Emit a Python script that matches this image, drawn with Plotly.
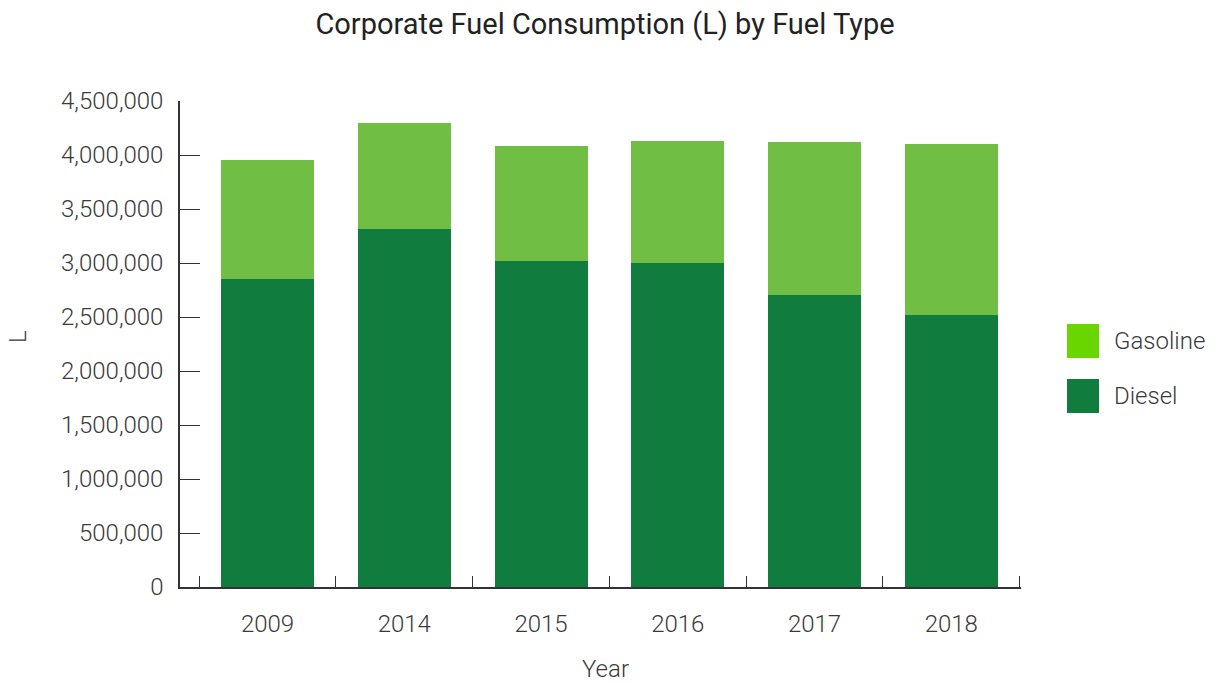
import plotly.graph_objects as go

years = ["2009", "2014", "2015", "2016", "2017", "2018"]
diesel = [2852000, 3315000, 3019000, 3000000, 2704000, 2519000]
gasoline = [1102000, 981000, 1064000, 1130000, 1416000, 1581000]
y_ticks = [0, 500000, 1000000, 1500000, 2000000, 2500000, 3000000, 3500000, 4000000, 4500000]

DIESEL_C = "#107c3e"
GAS_BAR_C = "#70bf44"
GAS_LEG_C = "#6ad600"
TXT = "#3a3a3a"
FONT = "Roboto"

fig = go.Figure()
fig.add_bar(x=years, y=diesel, name="Diesel", marker=dict(color=DIESEL_C, line=dict(width=0)),
            width=0.68, showlegend=False)
fig.add_bar(x=years, y=gasoline, name="Gasoline", marker=dict(color=GAS_BAR_C, line=dict(width=0)),
            width=0.68, showlegend=False)

L, R, T, B = 180, 197, 101, 96
W, H = 1218, 683
pw, ph = W - L - R, H - T - B

def px_x(x):
    return (x - L) / pw

def px_y(y):
    return (H - B - y) / ph

shapes = []
annotations = []
legend_items = [("Gasoline", GAS_LEG_C, 324), ("Diesel", DIESEL_C, 379)]
for name, col, top in legend_items:
    shapes.append(dict(type="rect", xref="paper", yref="paper",
                       x0=px_x(1067), x1=px_x(1099), y0=px_y(top + 34), y1=px_y(top),
                       fillcolor=col, line=dict(width=0)))
    annotations.append(dict(text=name, xref="paper", yref="paper", x=px_x(1112), y=px_y(top + 17),
                            xanchor="left", yanchor="middle", showarrow=False,
                            font=dict(family=FONT, size=24, color=TXT, weight=300)))

annotations.append(dict(text="L", xref="paper", yref="paper", x=px_x(18), y=px_y(337),
                        xanchor="center", yanchor="middle", showarrow=False, textangle=-90,
                        font=dict(family=FONT, size=24, color=TXT, weight=300)))
annotations.append(dict(text="Year", xref="paper", yref="paper", x=px_x(605), y=px_y(669),
                        xanchor="center", yanchor="middle", showarrow=False,
                        font=dict(family=FONT, size=24, color=TXT, weight=300)))

fig.update_layout(
    width=W, height=H,
    barmode="stack",
    bargap=0.32,
    plot_bgcolor="white", paper_bgcolor="white",
    margin=dict(l=L, r=R, t=T, b=B, autoexpand=False),
    title=dict(text="Corporate Fuel Consumption (L) by Fuel Type", x=605 / W, xanchor="center",
               y=1 - 24 / H, yanchor="middle",
               font=dict(family=FONT, size=29, color="#222222", weight=400)),
    font=dict(family=FONT, color=TXT),
    showlegend=False,
    shapes=shapes,
    annotations=annotations,
)
fig.update_xaxes(
    type="category",
    range=[-0.64, 5.51],
    automargin=False,
    showline=True, linecolor="#333333", linewidth=1.5,
    ticks="inside", tickson="boundaries", ticklen=11, tickcolor="#333333", tickwidth=1.2,
    ticklabelstandoff=14,
    tickfont=dict(family=FONT, size=24, color=TXT, weight=300),
    showgrid=False,
)
fig.update_yaxes(
    range=[0, 4500000],
    automargin=False,
    tickvals=y_ticks,
    tickformat=",d",
    showline=True, linecolor="#333333", linewidth=1.5,
    ticks="inside", ticklen=20, tickcolor="#333333", tickwidth=1.2,
    ticklabelstandoff=10,
    tickfont=dict(family=FONT, size=24, color=TXT, weight=300),
    showgrid=False, zeroline=False,
)

fig.write_html("out.html", config={"displayModeBar": False},
               post_script="document.body.style.margin='0';document.body.style.overflow='hidden';")
